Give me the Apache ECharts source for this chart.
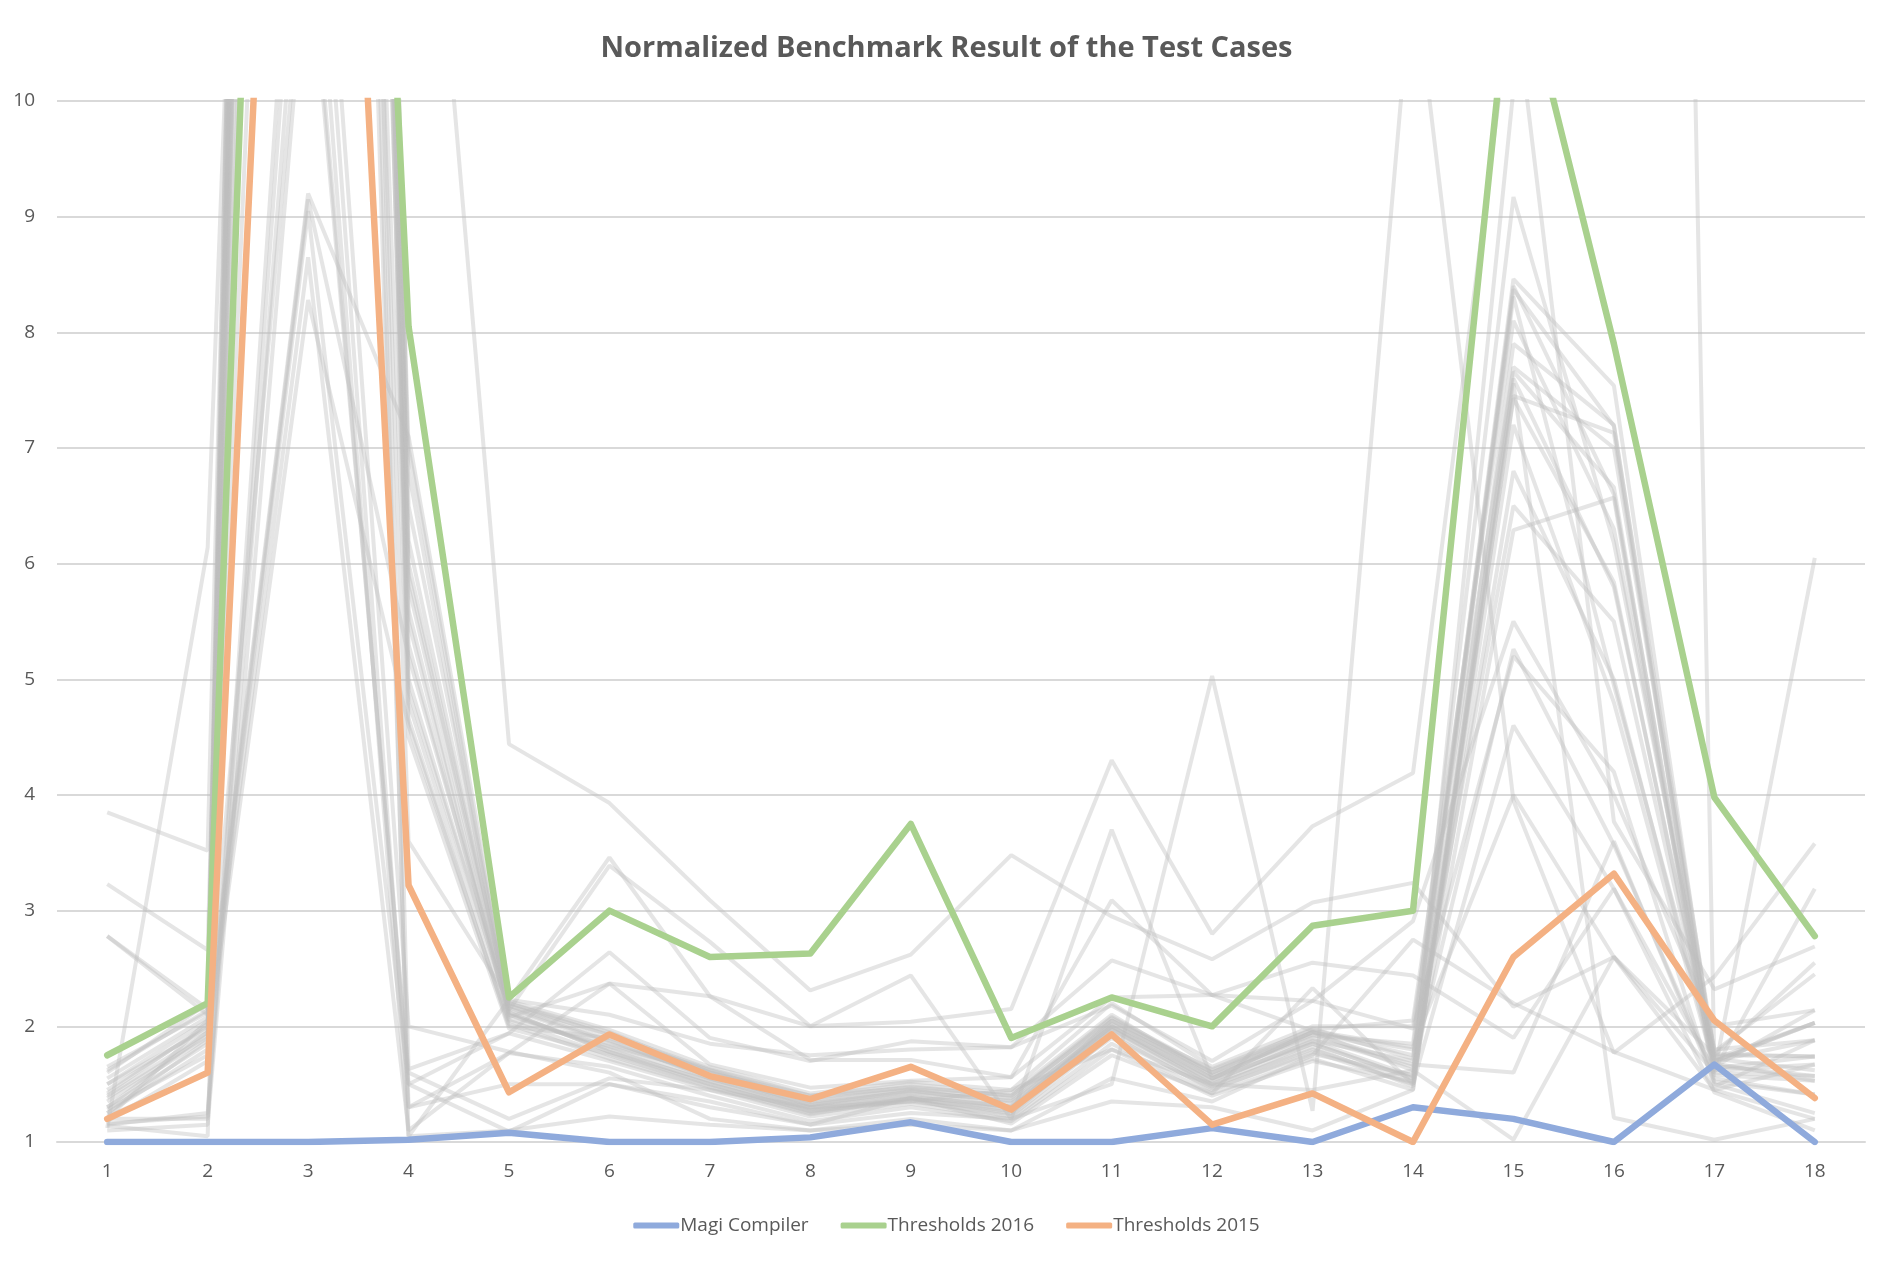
<!DOCTYPE html>
<html>
<head>
<meta charset="utf-8">
<title>Normalized Benchmark Result of the Test Cases</title>
<script src="https://cdn.jsdelivr.net/npm/echarts@6/dist/echarts.min.js"></script>
<style>
  html, body { margin: 0; padding: 0; background: #fff; }
  #main { width: 1893px; height: 1262px; }
</style>
</head>
<body>
<div id="main"></div>
<script>
// test case numbers on the x axis
var cases = ['1','2','3','4','5','6','7','8','9','10','11','12','13','14','15','16','17','18'];
var yTicks = [1, 10, 1]; // min, max, step

// highlighted series
var magi    = [1.00, 1.00, 1.00, 1.02, 1.08, 1.00, 1.00, 1.04, 1.17, 1.00, 1.00, 1.12, 1.00, 1.30, 1.20, 1.00, 1.67, 1.00];
var thr2016 = [1.75, 2.20, 26.0, 8.05, 2.25, 3.00, 2.60, 2.63, 3.75, 1.90, 2.25, 2.00, 2.87, 3.00, 11.4, 7.90, 3.98, 2.78];
var thr2015 = [1.20, 1.60, 20.0, 3.22, 1.43, 1.93, 1.57, 1.37, 1.65, 1.28, 1.93, 1.15, 1.42, 1.00, 2.60, 3.32, 2.05, 1.38];

// the other runs, drawn in grey behind
var otherRuns = [
  [3.85, 3.52, 38,   6.20, 2.15, 1.85, 1.58, 1.32, 1.42, 1.30, 1.98, 1.50, 1.85, 1.55, 7.60, 5.80, 1.72, 1.62],
  [3.23, 2.66, 34,   5.30, 2.10, 1.80, 1.52, 1.28, 1.38, 1.25, 2.05, 1.55, 1.95, 1.62, 8.40, 6.60, 1.68, 1.53],
  [2.78, 2.15, 42,   4.80, 2.05, 1.75, 1.48, 1.25, 1.36, 1.22, 1.92, 1.45, 1.78, 1.50, 7.90, 7.20, 1.60, 1.57],
  [2.78, 2.10, 40,   5.00, 2.12, 1.78, 1.50, 1.27, 1.35, 1.24, 1.95, 1.48, 1.82, 1.48, 7.45, 7.13, 1.62, 1.67],
  [1.12, 6.14, 29,   4.66, 2.00, 1.90, 1.62, 1.35, 1.45, 1.33, 2.02, 1.60, 1.98, 1.72, 8.31, 4.95, 1.75, 1.74],
  [1.50, 2.05, 9.20, 7.10, 2.20, 1.95, 1.60, 1.40, 1.50, 1.42, 2.10, 1.58, 1.92, 1.85, 9.17, 6.18, 1.80, 1.88],
  [1.45, 2.00, 9.15, 5.20, 2.18, 1.88, 1.55, 1.32, 1.44, 1.35, 2.00, 1.52, 1.88, 1.70, 8.46, 7.54, 1.70, 2.03],
  [1.40, 1.95, 9.05, 1.50, 1.94, 1.70, 1.45, 1.22, 1.33, 1.20, 1.85, 1.42, 1.72, 1.45, 7.66, 6.66, 1.55, 1.41],
  [1.35, 1.90, 8.65, 1.10, 1.77, 1.65, 1.40, 1.18, 1.30, 1.18, 1.80, 1.40, 1.70, 1.52, 6.29, 6.57, 1.50, 1.25],
  [1.30, 1.85, 8.28, 4.60, 2.02, 1.72, 1.47, 1.24, 1.38, 1.28, 1.90, 1.46, 1.76, 1.58, 7.43, 5.84, 1.65, 2.14],
  [1.60, 2.20, 22,   14.6, 4.44, 3.93, 3.09, 2.31, 2.62, 3.48, 2.95, 2.58, 3.07, 3.24, 2.17, 2.60, 1.75, 2.55],
  [1.25, 1.80, 36,   6.80, 2.08, 2.37, 2.26, 2.00, 2.04, 2.15, 4.30, 2.80, 3.73, 4.19, 11.0, 3.77, 2.32, 2.69],
  [1.15, 1.25, 13.3, 1.30, 1.50, 1.50, 1.35, 1.15, 1.25, 1.20, 1.50, 5.03, 1.27, 11.2, 3.95, 1.77, 2.43, 3.58],
  [1.20, 1.20, 12.5, 1.05, 1.10, 1.22, 1.15, 1.10, 1.15, 1.10, 1.35, 1.30, 1.10, 1.45, 7.56, 1.21, 1.02, 1.20],
  [1.30, 1.95, 40,   5.60, 2.10, 1.82, 1.55, 1.30, 1.40, 1.30, 2.00, 1.55, 1.85, 1.55, 10.1, 46,   1.70, 1.88],
  [1.65, 2.12, 44,   6.00, 2.20, 1.92, 1.62, 1.38, 1.48, 1.40, 2.08, 1.62, 1.95, 1.80, 8.37, 7.19, 1.78, 2.45],
  [1.55, 2.08, 38,   4.90, 2.16, 1.87, 1.57, 1.33, 1.43, 1.36, 2.03, 1.57, 1.90, 1.65, 5.26, 3.57, 1.58, 1.53],
  [1.28, 1.75, 35,   1.63, 1.94, 2.64, 1.90, 1.70, 1.87, 1.82, 2.18, 1.70, 2.22, 1.98, 5.20, 4.20, 1.48, 1.88],
  [1.18, 1.70, 30,   1.30, 1.77, 2.37, 1.67, 1.47, 1.53, 1.56, 2.25, 2.27, 2.55, 2.44, 1.90, 3.19, 1.62, 3.19],
  [1.22, 1.60, 33,   1.05, 2.23, 3.46, 2.26, 1.71, 1.71, 1.56, 3.09, 2.27, 1.96, 1.82, 4.00, 2.60, 1.45, 1.67],
  [1.38, 1.92, 42,   5.80, 2.14, 3.39, 2.73, 2.00, 2.44, 1.20, 3.70, 1.55, 1.95, 1.75, 6.50, 5.50, 1.70, 2.03],
  [1.75, 2.18, 45,   6.50, 2.22, 1.97, 1.65, 1.42, 1.52, 1.45, 2.20, 1.65, 2.00, 2.00, 7.70, 7.00, 1.76, 1.74],
  [1.50, 1.98, 37,   5.50, 2.06, 1.83, 1.60, 1.36, 1.46, 1.38, 2.07, 1.60, 1.93, 1.67, 1.60, 3.60, 1.52, 1.41],
  [1.10, 1.15, 11.5, 1.60, 1.20, 1.55, 1.45, 1.30, 1.35, 1.45, 1.80, 1.50, 1.45, 1.62, 1.02, 2.60, 1.60, 6.05],
  [1.20, 2.05, 11.7, 1.50, 1.09, 1.50, 1.30, 1.15, 1.38, 1.16, 1.75, 1.42, 2.33, 1.50, 4.60, 3.19, 1.43, 1.10],
  [1.14, 1.05, 30,   3.60, 2.23, 2.10, 1.85, 1.75, 1.80, 1.82, 2.57, 2.27, 2.22, 2.91, 5.50, 4.00, 2.00, 2.14],
  [1.25, 1.88, 35,   7.00, 2.12, 1.78, 1.53, 1.29, 1.39, 1.31, 1.99, 1.53, 1.87, 1.57, 6.80, 5.00, 1.66, 1.57],
  [1.42, 2.02, 39,   4.50, 1.98, 1.76, 1.50, 1.26, 1.37, 1.27, 1.97, 1.49, 1.80, 1.52, 7.20, 4.80, 1.64, 1.74],
  [1.16, 1.22, 14.0, 2.00, 1.78, 1.60, 1.20, 1.10, 1.20, 1.10, 1.55, 1.35, 1.75, 2.75, 2.20, 1.78, 1.45, 1.20],
  [1.62, 2.14, 41,   5.90, 2.18, 1.93, 1.63, 1.40, 1.47, 1.40, 2.05, 1.63, 1.97, 2.05, 8.10, 6.30, 1.72, 2.03]
];

var myChart = echarts.init(document.getElementById('main'));

var font = '"Open Sans", "Noto Sans", sans-serif';

var series = [];
otherRuns.forEach(function (run, i) {
  series.push({
    name: 'run' + i,
    type: 'line',
    data: run,
    symbol: 'none',
    silent: true,
    z: 1,
    lineStyle: { color: '#bfbfbf', width: 4, opacity: 0.4 }
  });
});
series.push({
  name: 'Magi Compiler', type: 'line', data: magi, symbol: 'none', z: 3,
  lineStyle: { color: '#8faadc', width: 6.5, cap: 'round', join: 'round' }
});
series.push({
  name: 'Thresholds 2016', type: 'line', data: thr2016, symbol: 'none', z: 4,
  lineStyle: { color: '#a9d18e', width: 6.5, cap: 'round', join: 'round' }
});
series.push({
  name: 'Thresholds 2015', type: 'line', data: thr2015, symbol: 'none', z: 5,
  lineStyle: { color: '#f4b183', width: 6.5, cap: 'round', join: 'round' }
});

var option = {
  backgroundColor: '#fff',
  animation: false,
  title: {
    text: 'Normalized Benchmark Result of the Test Cases',
    left: 'center',
    top: 29,
    textStyle: { fontFamily: font, fontSize: 29, fontWeight: 'bold', color: '#595959' }
  },
  color: ['#8faadc', '#a9d18e', '#f4b183'],
  legend: {
    data: [
      { name: 'Magi Compiler', itemStyle: { color: '#8faadc' } },
      { name: 'Thresholds 2016', itemStyle: { color: '#a9d18e' } },
      { name: 'Thresholds 2015', itemStyle: { color: '#f4b183' } }
    ],
    bottom: 22,
    left: 'center',
    icon: 'roundRect',
    itemWidth: 46,
    itemHeight: 6,
    itemGap: 32,
    textStyle: { fontFamily: font, fontSize: 19, color: '#595959', padding: [0, 0, 0, -4] }
  },
  grid: { left: 57, right: 28, top: 101, bottom: 120 },
  xAxis: {
    type: 'category',
    data: cases,
    boundaryGap: true,
    axisLine: { lineStyle: { color: '#d9d9d9', width: 2 } },
    axisTick: { show: false },
    axisLabel: { fontFamily: font, fontSize: 19, color: '#595959', margin: 20 }
  },
  yAxis: {
    type: 'value',
    min: yTicks[0],
    max: yTicks[1],
    interval: yTicks[2],
    axisLine: { show: false },
    axisTick: { show: false },
    splitLine: { lineStyle: { color: '#d9d9d9', width: 2 } },
    axisLabel: { fontFamily: font, fontSize: 19, color: '#595959', margin: 22 }
  },
  series: series
};

myChart.setOption(option);
window.onresize = function () {
  myChart.resize();
};
</script>
</body>
</html>
